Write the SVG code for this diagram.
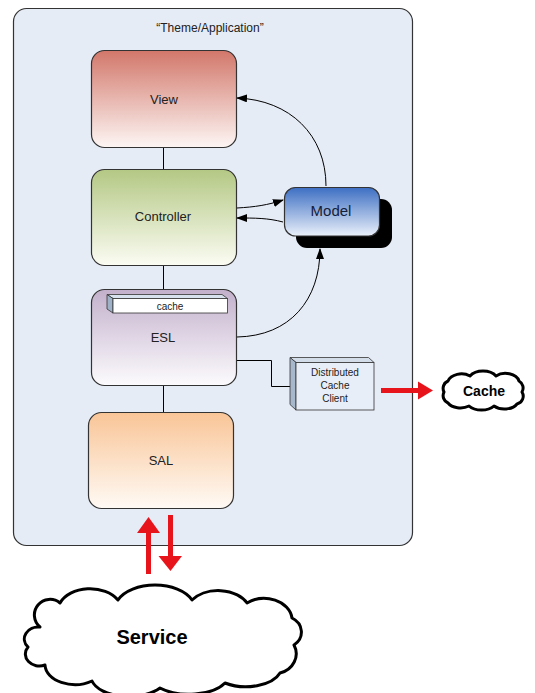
<svg xmlns="http://www.w3.org/2000/svg" width="535" height="693" viewBox="0 0 535 693">
<defs>
<linearGradient id="gView" x1="0" y1="0" x2="0" y2="1"><stop offset="0" stop-color="#d2776a"/><stop offset="1" stop-color="#fdf6f4"/></linearGradient>
<linearGradient id="gCtrl" x1="0" y1="0" x2="0" y2="1"><stop offset="0" stop-color="#b4c884"/><stop offset="1" stop-color="#fbfcf3"/></linearGradient>
<linearGradient id="gEsl" x1="0" y1="0" x2="0" y2="1"><stop offset="0" stop-color="#c3b0cc"/><stop offset="1" stop-color="#fcfbfd"/></linearGradient>
<linearGradient id="gSal" x1="0" y1="0" x2="0" y2="1"><stop offset="0" stop-color="#f9c597"/><stop offset="1" stop-color="#fffaf5"/></linearGradient>
<linearGradient id="gModel" x1="0" y1="0" x2="0" y2="1"><stop offset="0" stop-color="#3d6fc3"/><stop offset="1" stop-color="#eaf0fa"/></linearGradient>
<marker id="ah" markerWidth="11" markerHeight="8" refX="10" refY="4" orient="auto" markerUnits="userSpaceOnUse"><path d="M0,0 L11,4 L0,8 Z" fill="#000"/></marker>
</defs>
<style>
.box{stroke:#333;stroke-width:1.2}
.lbl{font-family:"Liberation Sans",Arial,sans-serif;font-size:13px;fill:#222;text-anchor:middle}
.sm{font-family:"Liberation Sans",Arial,sans-serif;font-size:10px;fill:#222;text-anchor:middle}
.ln{fill:none;stroke:#000;stroke-width:1}
.cloud{fill:#fff;stroke:#000;stroke-width:3;stroke-linejoin:round}
.red{fill:#e8141c}
</style>
<g id="container">
<rect x="13.5" y="8.5" width="399" height="537" rx="13" fill="#e6ecf6" stroke="#333" stroke-width="1.2"/>
<text x="210" y="32" class="lbl" font-size="12" style="font-size:12px">“Theme/Application”</text>
</g>
<g id="connectors">
<line x1="163.5" y1="147" x2="163.5" y2="169" class="ln"/>
<line x1="163.5" y1="265" x2="163.5" y2="289" class="ln"/>
<line x1="163.5" y1="385" x2="163.5" y2="412" class="ln"/>
<path d="M326,186 C326,135 290,100 237,98" class="ln" marker-end="url(#ah)"/>
<path d="M237,208 C255,207 268,205 283,200" class="ln" marker-end="url(#ah)"/>
<path d="M283,222 C268,218 255,218 237,218" class="ln" marker-end="url(#ah)"/>
<path d="M237,337 C290,336 320,300 320,249" class="ln" marker-end="url(#ah)"/>
<path d="M236,360.5 H271.5 V386.5 H291" class="ln"/>
<rect x="381" y="388" width="38" height="5" class="red"/>
<path d="M418,381.5 L433,390.5 L418,399.5 Z" class="red"/>
<rect x="146" y="531" width="5" height="43" class="red"/>
<path d="M137,533 L148.5,517 L160,533 Z" class="red"/>
<rect x="168" y="515" width="5" height="43" class="red"/>
<path d="M158.5,556 L170.5,571 L182,556 Z" class="red"/>
</g>
<g id="view">
<rect x="91.5" y="50.5" width="145" height="97" rx="13" fill="url(#gView)" class="box"/>
<text x="164" y="104" class="lbl">View</text>
</g>
<g id="controller">
<rect x="91.5" y="169.5" width="145" height="96" rx="13" fill="url(#gCtrl)" class="box"/>
<text x="163" y="221" class="lbl">Controller</text>
</g>
<g id="esl">
<rect x="91.5" y="289.5" width="145" height="96" rx="13" fill="url(#gEsl)" class="box"/>
<text x="163" y="342" class="lbl">ESL</text>
</g>
<g id="cache-bar">
<path d="M107,294.5 H222 L227.5,298.5 H113 Z" fill="#d8e2ee" stroke="#333" stroke-width="0.8"/>
<path d="M107,294.5 L113,298.5 V313 L107,309 Z" fill="#9fb1c6" stroke="#333" stroke-width="0.8"/>
<rect x="113" y="298.5" width="114.5" height="14.5" fill="#fff" stroke="#333" stroke-width="0.8"/>
<text x="170" y="309.5" class="sm">cache</text>
</g>
<g id="sal">
<rect x="88.5" y="412.5" width="145" height="96" rx="13" fill="url(#gSal)" class="box"/>
<text x="161" y="465" class="lbl">SAL</text>
</g>
<g id="model">
<rect x="296" y="199" width="96" height="49" rx="11" fill="#000"/>
<rect x="284.5" y="187.5" width="95" height="48.5" rx="11" fill="url(#gModel)" class="box"/>
<text x="331" y="216" class="lbl" style="font-size:15px;fill:#15213a">Model</text>
</g>
<g id="dcc">
<path d="M290,357.5 H368.5 L374,362.5 H296 Z" fill="#d3ddea" stroke="#333" stroke-width="0.8"/>
<path d="M290,357.5 L296,362.5 V410 L290,404.5 Z" fill="#a8b8cc" stroke="#333" stroke-width="0.8"/>
<rect x="296" y="362.5" width="78" height="47.5" fill="#e8eef7" stroke="#333" stroke-width="0.8"/>
<text x="335" y="376" class="sm">Distributed</text>
<text x="335" y="389" class="sm">Cache</text>
<text x="335" y="402" class="sm">Client</text>
</g>
<g id="cache">
<path class="cloud" d="M448,381 A14,10 0 0 1 470,376 A15,10 0 0 1 496,376 A14,10 0 0 1 519,381 A8,8 0 0 1 522,392 A8,8 0 0 1 517,404 A14,9 0 0 1 494,406 A15,9 0 0 1 469,406 A14,9 0 0 1 448,403 A8,8 0 0 1 444,392 A8,8 0 0 1 448,381 Z"/>
<text x="484" y="396" class="lbl" style="font-size:14px;font-weight:bold;fill:#000">Cache</text>
</g>
<g id="service">
<path class="cloud" d="M60,603 A32,22 0 0 1 118,600 A40,24 0 0 1 192,600 A32,22 0 0 1 247,603 A28,22 0 0 1 292,618 A18,16 0 0 1 294,645 A22,20 0 0 1 280,673 A36,20 0 0 1 225,683 A40,20 0 0 1 160,688 A38,20 0 0 1 92,681 A30,20 0 0 1 45,665 A14,12 0 0 1 28,647 A14,12 0 0 1 40,627 A14,14 0 0 1 60,603 Z"/>
<text x="152" y="644" class="lbl" style="font-size:20px;font-weight:bold;fill:#000">Service</text>
</g>
</svg>
